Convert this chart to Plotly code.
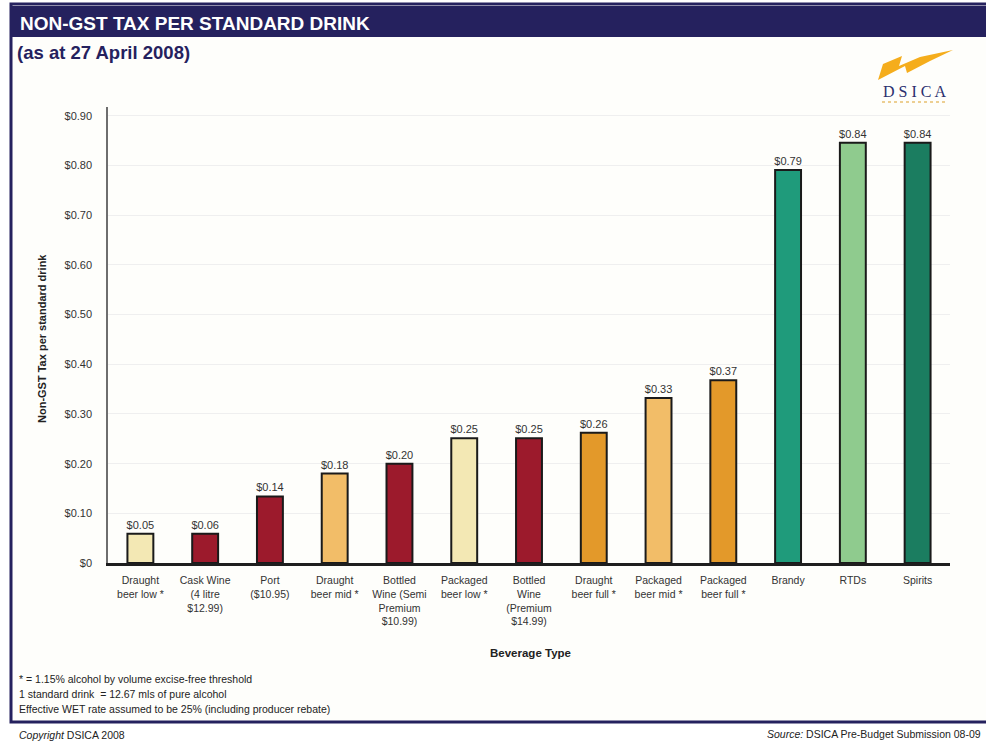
import plotly.graph_objects as go

W, H = 986, 742          # reference canvas (pixel coordinates below refer to it)
FIG_H = 748               # page height used so the photographed canvas maps 1:1

categories = [
    "Draught beer low *", "Cask Wine (4 litre $12.99)", "Port ($10.95)",
    "Draught beer mid *", "Bottled Wine (Semi Premium $10.99)", "Packaged beer low *",
    "Bottled Wine (Premium $14.99)", "Draught beer full *", "Packaged beer mid *",
    "Packaged beer full *", "Brandy", "RTDs", "Spirits",
]
tick_labels = [
    "Draught<br>beer low *", "Cask Wine<br>(4 litre<br>$12.99)", "Port<br>($10.95)",
    "Draught<br>beer mid *", "Bottled<br>Wine (Semi<br>Premium<br>$10.99)", "Packaged<br>beer low *",
    "Bottled<br>Wine<br>(Premium<br>$14.99)", "Draught<br>beer full *", "Packaged<br>beer mid *",
    "Packaged<br>beer full *", "Brandy", "RTDs", "Spirits",
]
values = [0.059, 0.059, 0.134, 0.180, 0.200, 0.251, 0.251, 0.262, 0.332, 0.368, 0.791, 0.846, 0.846]
value_labels = ["$0.05", "$0.06", "$0.14", "$0.18", "$0.20", "$0.25", "$0.25", "$0.26",
                "$0.33", "$0.37", "$0.79", "$0.84", "$0.84"]
bar_colors = ["#f3e8b4", "#9c1a2c", "#9c1a2c", "#f2bd68", "#9c1a2c", "#f3e8b4", "#9c1a2c",
              "#e3992a", "#f2bd68", "#e3992a", "#1f9b7b", "#8fcb8e", "#1b7d60"]
y_ticks = [0, 0.1, 0.2, 0.3, 0.4, 0.5, 0.6, 0.7, 0.8, 0.9]
y_tick_labels = ["$0", "$0.10", "$0.20", "$0.30", "$0.40", "$0.50", "$0.60", "$0.70", "$0.80", "$0.90"]


def px(x):
    return x / W


def py(y):
    return 1 - y / H


NAVY = "#25215e"
FONT = "Liberation Sans, Arial, sans-serif"

fig = go.Figure()
fig.add_trace(go.Bar(
    x=categories, y=values, text=value_labels,
    textposition="outside", constraintext="none", cliponaxis=False,
    textfont=dict(size=11, color="#333333", family=FONT),
    marker=dict(color=bar_colors, line=dict(color="#1a1a1a", width=2)),
    hoverinfo="x+y",
))

shapes = [
    dict(type="rect", xref="paper", yref="paper", x0=px(11), x1=px(995), y0=py(722), y1=py(4),
         fillcolor="#fefefb", line=dict(color=NAVY, width=3), layer="below"),
    dict(type="rect", xref="paper", yref="paper", x0=px(11), x1=px(995), y0=py(37), y1=py(6),
         fillcolor=NAVY, line=dict(width=0), layer="below"),
    dict(type="path", xref="paper", yref="paper",
         path="M {} {} L {} {} L {} {} L {} {} L {} {} L {} {} L {} {} L {} {} L {} {} Z".format(
             px(878), py(80), px(883), py(64), px(902), py(56), px(899), py(66),
             px(920), py(57), px(953), py(50), px(930), py(61), px(907), py(73), px(905), py(66)),
         fillcolor="#f5ad1c", line=dict(width=0)),
    dict(type="line", xref="paper", yref="paper", x0=px(882), x1=px(948), y0=py(102), y1=py(102),
         line=dict(color="#e8c070", width=1.5, dash="dot")),
]

annotations = [
    dict(text="<b>NON-GST TAX PER STANDARD DRINK</b>", x=px(18), y=py(23), xref="paper", yref="paper",
         xanchor="left", yanchor="middle", showarrow=False,
         font=dict(size=19, color="white", family=FONT)),
    dict(text="<b>(as at 27 April 2008)</b>", x=px(15), y=py(52), xref="paper", yref="paper",
         xanchor="left", yanchor="middle", showarrow=False,
         font=dict(size=18.5, color=NAVY, family=FONT)),
    dict(text="D S I C A", x=px(915), y=py(92), xref="paper", yref="paper",
         xanchor="center", yanchor="middle", showarrow=False,
         font=dict(size=16, color="#2b2f6e", family="Liberation Serif, DejaVu Serif, serif")),
    dict(text="<b>Non-GST Tax per standard drink</b>", x=px(42), y=py(339), xref="paper", yref="paper",
         xanchor="center", yanchor="middle", textangle=-90, showarrow=False,
         font=dict(size=11, color="#222222", family=FONT)),
    dict(text="<b>Beverage Type</b>", x=px(530), y=py(653), xref="paper", yref="paper",
         xanchor="center", yanchor="middle", showarrow=False,
         font=dict(size=11.5, color="#222222", family=FONT)),
    dict(text="* = 1.15% alcohol by volume excise-free threshold", x=px(17), y=py(679),
         xref="paper", yref="paper", xanchor="left", yanchor="middle", showarrow=False,
         font=dict(size=10.5, color="#222222", family=FONT)),
    dict(text="1 standard drink  = 12.67 mls of pure alcohol", x=px(17), y=py(694),
         xref="paper", yref="paper", xanchor="left", yanchor="middle", showarrow=False,
         font=dict(size=10.5, color="#222222", family=FONT)),
    dict(text="Effective WET rate assumed to be 25% (including producer rebate)", x=px(17), y=py(709),
         xref="paper", yref="paper", xanchor="left", yanchor="middle", showarrow=False,
         font=dict(size=10.5, color="#222222", family=FONT)),
    dict(text="<i>Copyright</i> DSICA 2008", x=px(17), y=py(735),
         xref="paper", yref="paper", xanchor="left", yanchor="middle", showarrow=False,
         font=dict(size=10.5, color="#222222", family=FONT)),
    dict(text="<i>Source:</i> DSICA Pre-Budget Submission 08-09", x=px(983), y=py(734),
         xref="paper", yref="paper", xanchor="right", yanchor="middle", showarrow=False,
         font=dict(size=10.5, color="#222222", family=FONT)),
]

fig.update_layout(
    width=W, height=FIG_H, autosize=False,
    margin=dict(l=0, r=0, t=0, b=0, pad=0),
    paper_bgcolor="white", plot_bgcolor="rgba(0,0,0,0)",
    font=dict(family=FONT, color="#333333"),
    showlegend=False, bargap=0.6,
    shapes=shapes, annotations=annotations,
    xaxis=dict(
        domain=[px(108), px(950)], type="category",
        tickvals=categories, ticktext=tick_labels,
        tickfont=dict(size=10.5, color="#333333"),
        showline=True, linecolor="#1e1e1e", linewidth=2.5,
        showgrid=False, ticks="", ticklabelstandoff=6, fixedrange=True,
    ),
    yaxis=dict(
        domain=[py(563), py(107)], range=[0, 0.918],
        tickvals=y_ticks, ticktext=y_tick_labels,
        tickfont=dict(size=11, color="#333333"),
        showline=True, linecolor="#6e6e6e", linewidth=1.5,
        showgrid=True, gridcolor="#efefef", gridwidth=1, zeroline=False,
        ticks="", ticklabelstandoff=12, fixedrange=True,
    ),
)

post = (
    "var s=document.body.style;s.margin='0';s.padding='0';s.overflow='hidden';"
    "s.fontSize='0';s.lineHeight='0';"
    "document.documentElement.style.overflow='hidden';"
)

fig.write_html("out.html", config={"displayModeBar": False}, post_script=post)
